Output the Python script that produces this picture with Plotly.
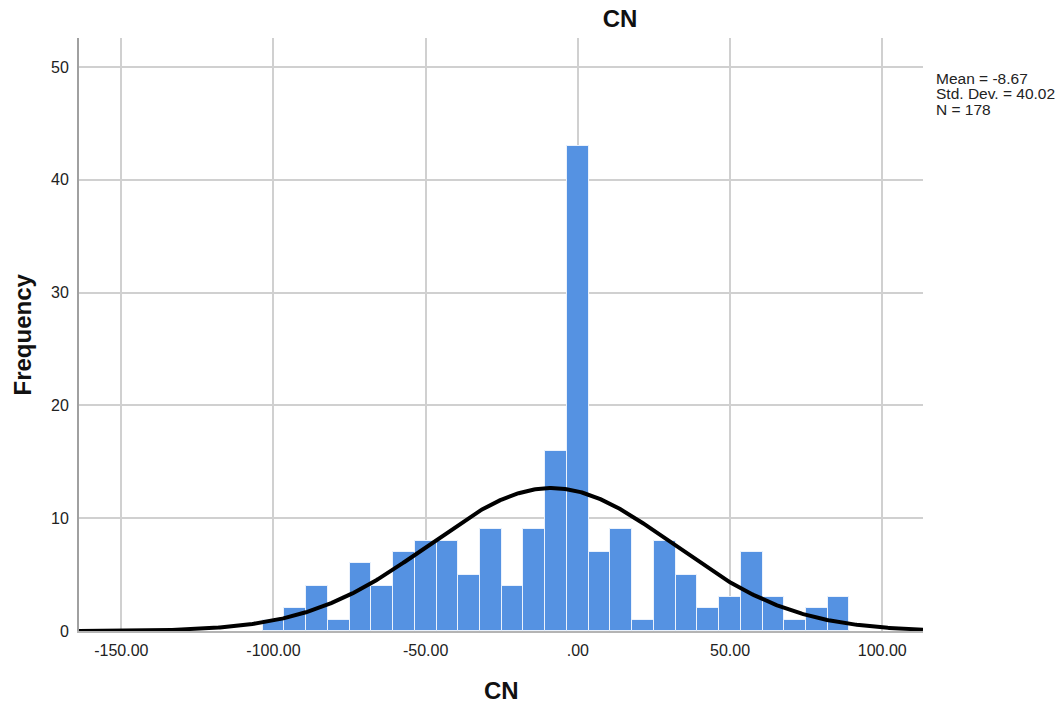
import numpy as np
import plotly.graph_objects as go

# ---- data ----
bin_start = -103.55
bin_width = 7.14
counts = [1, 2, 4, 1, 6, 4, 7, 8, 8, 5, 9, 4, 9, 16, 43, 7, 9, 1, 8, 5, 2, 3, 7, 3, 1, 2, 3]
mean_val = -8.67
sd_val = 40.02
n_val = 178
x_tickvals = [-150, -100, -50, 0, 50, 100]
x_ticktext = ["-150.00", "-100.00", "-50.00", ".00", "50.00", "100.00"]
y_tickvals = [0, 10, 20, 30, 40, 50]
stats_lines = ["Mean = -8.67", "Std. Dev. = 40.02", "N = 178"]

x_range = [-163.9, 113.4]
y_range = [0, 52.57]

centers = [bin_start + bin_width * (i + 0.5) for i in range(len(counts))]

# normal curve scaled to the histogram
xc = np.linspace(x_range[0], x_range[1], 600)
yc = n_val * bin_width * np.exp(-0.5 * ((xc - mean_val) / sd_val) ** 2) / (sd_val * np.sqrt(2 * np.pi))

FONT = "Liberation Sans, Arial, sans-serif"

fig = go.Figure()
fig.add_trace(go.Bar(
    x=centers, y=counts, width=bin_width,
    marker=dict(color="#5592e2", line=dict(color="rgba(235,242,252,1)", width=1)),
    hoverinfo="x+y", showlegend=False,
))
fig.add_trace(go.Scatter(
    x=xc, y=yc, mode="lines", line=dict(color="black", width=4),
    showlegend=False, hoverinfo="skip",
))

fig.update_layout(
    width=1064, height=710,
    margin=dict(l=79, r=141, t=38, b=79),
    paper_bgcolor="white", plot_bgcolor="white",
    font=dict(family=FONT, color="#222222"),
    bargap=0,
    title=dict(text="<b>CN</b>", x=620 / 1064, xref="container", xanchor="center",
               y=1 - 19 / 710, yref="container", yanchor="middle",
               font=dict(size=24, family=FONT, color="#111111")),
    xaxis=dict(range=x_range, tickvals=x_tickvals, ticktext=x_ticktext,
               showgrid=True, gridcolor="#d0d0d0", gridwidth=1.5,
               showline=True, linecolor="#b4b4b4", linewidth=2,
               zeroline=False, ticks="", tickfont=dict(size=16, color="#222222"),
               ticklabelstandoff=4),
    yaxis=dict(range=y_range, tickvals=y_tickvals,
               showgrid=True, gridcolor="#d0d0d0", gridwidth=1.5,
               showline=True, linecolor="#a0a0a0", linewidth=2,
               zeroline=False, ticks="", tickfont=dict(size=16, color="#222222"),
               ticklabelstandoff=5),
)

annotations = [
    dict(text="<b>CN</b>", xref="paper", yref="paper", x=0.5, y=0, yshift=-59,
         xanchor="center", yanchor="middle", showarrow=False,
         font=dict(size=24, family=FONT, color="#111111")),
    dict(text="<b>Frequency</b>", xref="paper", yref="paper", x=0, y=0.5, xshift=-57,
         xanchor="center", yanchor="middle", textangle=-90, showarrow=False,
         font=dict(size=24, family=FONT, color="#111111")),
]
for i, line in enumerate(stats_lines):
    annotations.append(dict(text=line, xref="paper", yref="paper", x=1, y=1,
                            xshift=11, yshift=-(40 + 15.5 * i), xanchor="left", yanchor="middle",
                            showarrow=False, font=dict(size=15.5, family=FONT, color="#222222")))
fig.update_layout(annotations=annotations)

fig.write_html("out.html")
